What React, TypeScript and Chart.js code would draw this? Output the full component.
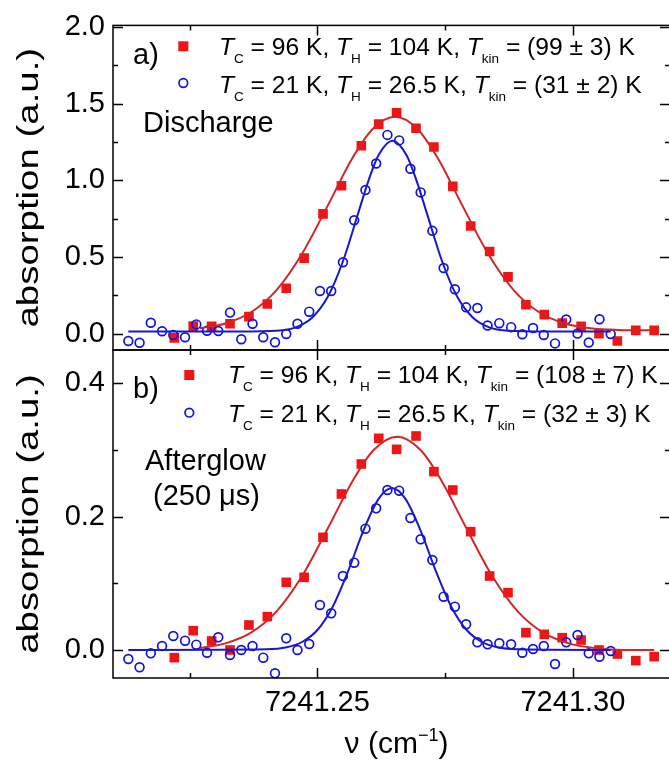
import React, { useEffect, useRef } from 'react';
import { Chart, registerables } from 'chart.js';

Chart.register(...registerables);

const FONT = '"Liberation Sans", Arial, Helvetica, sans-serif';

// ---------- axes ----------
const NU_MIN = 7241.21;
const NU_MAX = 7241.319;
const X_MAJOR = [7241.25, 7241.3];
const X_MINOR = [7241.225, 7241.275];

const TOP_Y_MIN = -0.107;
const TOP_Y_MAX = 2.01;
const TOP_Y_MAJOR = [0, 0.5, 1.0, 1.5, 2.0];
const TOP_Y_MINOR = [0.25, 0.75, 1.25, 1.75];

const BOT_Y_MIN = -0.042;
const BOT_Y_MAX = 0.45;
const BOT_Y_MAJOR = [0, 0.2, 0.4];
const BOT_Y_MINOR = [0.1, 0.3];

// ---------- measured points ----------
const BLUE_NU = [
  7241.213, 7241.2152, 7241.2174, 7241.2196, 7241.2218, 7241.2241, 7241.2263, 7241.2284, 7241.2306, 7241.2329,
  7241.2351, 7241.2373, 7241.2394, 7241.2417, 7241.2439, 7241.2461, 7241.2484, 7241.2505, 7241.2527, 7241.255,
  7241.2572, 7241.2594, 7241.2615, 7241.2637, 7241.266, 7241.2682, 7241.2702, 7241.2725, 7241.2747, 7241.2769,
  7241.2791, 7241.2813, 7241.2833, 7241.2856, 7241.2879, 7241.2901, 7241.2922, 7241.2943, 7241.2965, 7241.2987,
  7241.3009, 7241.3031, 7241.3052, 7241.3074,
];
const TOP_BLUE = [
  -0.048, -0.06, 0.071, 0.015, -0.009, -0.024, 0.06, 0.019, 0.017, 0.137,
  -0.037, 0.064, -0.024, -0.056, -0.003, 0.064, 0.143, 0.278, 0.278, 0.465,
  0.739, 0.936, 1.109, 1.296, 1.26, 1.075, 0.921, 0.67, 0.428, 0.289,
  0.171, 0.167, 0.053, 0.068, 0.042, -0.004, 0.036, -0.009, -0.064, 0.092,
  0.0, -0.058, 0.094, -0.003,
];
const BOT_BLUE = [
  -0.0135, -0.026, -0.005, 0.006, 0.021, 0.014, 0.008, -0.004, 0.019, -0.0075,
  0.0, 0.006, -0.0115, -0.035, 0.0175, 0.0, 0.009, 0.0675, 0.055, 0.111,
  0.131, 0.182, 0.2125, 0.24, 0.239, 0.198, 0.166, 0.135, 0.08, 0.065,
  0.0385, 0.0115, 0.0085, 0.01, 0.0085, -0.004, 0.0015, 0.006, -0.021, 0.0115,
  0.0225, -0.005, -0.01, -0.0015,
];

const RED_NU = [
  7241.222, 7241.2257, 7241.2293, 7241.2329, 7241.2366, 7241.2402, 7241.2439, 7241.2474, 7241.2511, 7241.2547,
  7241.2586, 7241.262, 7241.2655, 7241.2693, 7241.2728, 7241.2765, 7241.28, 7241.2837, 7241.2873, 7241.2908,
  7241.2944, 7241.2979, 7241.3016, 7241.3051, 7241.3087, 7241.3123, 7241.3159,
];
const TOP_RED = [
  -0.028, 0.049, 0.047, 0.064, 0.111, 0.193, 0.296, 0.492, 0.781, 0.964,
  1.225, 1.366, 1.44, 1.339, 1.217, 0.96, 0.702, 0.535, 0.37, 0.188,
  0.124, 0.068, 0.047, 0.0, -0.048, 0.021, 0.021,
];
const BOT_RED = [
  -0.0115, 0.029, 0.0135, 0.0, 0.0375, 0.05, 0.1015, 0.109, 0.169, 0.234,
  0.279, 0.3175, 0.301, 0.321, 0.2675, 0.24, 0.1775, 0.111, 0.086, 0.026,
  0.0235, 0.0185, 0.015, 0.0, -0.006, -0.016, -0.01,
];

// ---------- fit curves ----------
const TOP_BLUE_FIT_NU = [
  7241.213, 7241.235, 7241.242, 7241.246, 7241.249, 7241.252, 7241.255, 7241.258, 7241.26, 7241.262, 7241.2647,
  7241.2674, 7241.2694, 7241.2714, 7241.2744, 7241.2774, 7241.2804, 7241.2834, 7241.2874, 7241.2944, 7241.3074,
];
const TOP_BLUE_FIT = [
  0.013, 0.013, 0.018, 0.044, 0.105, 0.238, 0.472, 0.787, 0.998, 1.166, 1.258,
  1.166, 0.998, 0.787, 0.472, 0.238, 0.105, 0.044, 0.018, 0.013, 0.013,
];
const TOP_RED_FIT_NU = [
  7241.227, 7241.232, 7241.237, 7241.242, 7241.247, 7241.252, 7241.257, 7241.261, 7241.2652, 7241.2694,
  7241.2734, 7241.2784, 7241.2834, 7241.2884, 7241.2934, 7241.2984, 7241.3034, 7241.309, 7241.3159,
];
const TOP_RED_FIT = [
  0.035, 0.066, 0.139, 0.284, 0.521, 0.833, 1.153, 1.341, 1.415, 1.341,
  1.153, 0.833, 0.521, 0.284, 0.139, 0.066, 0.035, 0.024, 0.021,
];
const BOT_BLUE_FIT_NU = [
  7241.213, 7241.24, 7241.244, 7241.247, 7241.25, 7241.253, 7241.256, 7241.259, 7241.262, 7241.2646,
  7241.2672, 7241.2702, 7241.2732, 7241.2762, 7241.2792, 7241.2822, 7241.2852, 7241.2892, 7241.3074,
];
const BOT_BLUE_FIT = [
  0.0, 0.001, 0.004, 0.012, 0.03, 0.065, 0.118, 0.179, 0.227, 0.243,
  0.227, 0.179, 0.118, 0.065, 0.03, 0.012, 0.004, 0.001, 0.0,
];
const BOT_RED_FIT_NU = [
  7241.227, 7241.232, 7241.237, 7241.242, 7241.247, 7241.252, 7241.257, 7241.261, 7241.2656, 7241.2702,
  7241.2742, 7241.2792, 7241.2842, 7241.2892, 7241.2942, 7241.2992, 7241.3042, 7241.31, 7241.3159,
];
const BOT_RED_FIT = [
  0.003, 0.01, 0.026, 0.058, 0.111, 0.182, 0.255, 0.3, 0.32, 0.3,
  0.255, 0.182, 0.111, 0.058, 0.026, 0.01, 0.003, 0.0, 0.0,
];

// ---------- texts ----------
type Seg = { t: string; it?: boolean; sub?: boolean };
const mkRow = (tc: string, th: string, tk: string): Seg[] => [
  { t: 'T', it: true }, { t: 'C', sub: true }, { t: ` = ${tc} K, ` },
  { t: 'T', it: true }, { t: 'H', sub: true }, { t: ` = ${th} K, ` },
  { t: 'T', it: true }, { t: 'kin', sub: true }, { t: ` = ${tk} K` },
];
const TOP_LEGEND = [mkRow('96', '104', '(99 ± 3)'), mkRow('21', '26.5', '(31 ± 2)')];
const BOT_LEGEND = [mkRow('96', '104', '(108 ± 7)'), mkRow('21', '26.5', '(32 ± 3)')];
const TOP_LABELS = ['a)', 'Discharge'];
const BOT_LABELS = ['b)', 'Afterglow', '(250 μs)'];
const Y_TITLE = 'absorption (a.u.)';

const RED = '#f01414';
const RED_LINE = '#d02626';
const BLUE = '#1212e0';
const BLUE_LINE = '#1818cc';

const LEG_SIZE = 24.6;
const LEG_SUB = 13.5;
const TITLE_SIZE = 30;
const TITLE_STRETCH = 1.28;

const xy = (xs: number[], ys: number[]) => xs.map((x, i) => ({ x, y: ys[i] }));

function drawRich(ctx: CanvasRenderingContext2D, x: number, y: number, segs: Seg[], size: number, subSize: number, subDrop: number) {
  let cx = x;
  ctx.textAlign = 'left';
  ctx.textBaseline = 'alphabetic';
  for (const s of segs) {
    ctx.font = s.sub ? `${subSize}px ${FONT}` : `${s.it ? 'italic ' : ''}${size}px ${FONT}`;
    ctx.fillText(s.t, cx, s.sub ? y + subDrop : y);
    cx += ctx.measureText(s.t).width;
  }
  return cx;
}

function drawMarker(ctx: CanvasRenderingContext2D, kind: 'sq' | 'ci', x: number, y: number) {
  ctx.save();
  if (kind === 'sq') {
    ctx.fillStyle = RED;
    ctx.fillRect(x - 5, y - 5, 10, 10);
  } else {
    ctx.strokeStyle = BLUE;
    ctx.lineWidth = 1.7;
    ctx.beginPath();
    ctx.arc(x, y, 4.3, 0, Math.PI * 2);
    ctx.stroke();
  }
  ctx.restore();
}

function drawYTitle(ctx: CanvasRenderingContext2D, chart: any) {
  const { top, bottom } = chart.chartArea;
  ctx.save();
  ctx.translate(29.5, (top + bottom) / 2);
  ctx.rotate(-Math.PI / 2);
  ctx.scale(TITLE_STRETCH, 1);
  ctx.font = `${TITLE_SIZE}px ${FONT}`;
  ctx.fillStyle = '#000';
  ctx.textAlign = 'center';
  ctx.textBaseline = 'middle';
  ctx.fillText(Y_TITLE, 0, 0);
  ctx.restore();
}

type PanelCfg = {
  canvasTop: number;
  canvasHeight: number;
  padTop: number;
  padBottom: number;
  showX: boolean;
  yMin: number;
  yMax: number;
  yMajor: number[];
  yMinor: number[];
  blue: number[];
  red: number[];
  blueFitNu: number[];
  blueFit: number[];
  redFitNu: number[];
  redFit: number[];
  decorate: (ctx: CanvasRenderingContext2D, off: number) => void;
};

function framePlugin(cfg: PanelCfg) {
  return {
    id: 'frameTicks',
    afterDatasetsDraw(chart: any) {
      const ctx: CanvasRenderingContext2D = chart.ctx;
      const { left, right, top, bottom } = chart.chartArea;
      const xs = chart.scales.x;
      const ys = chart.scales.y;
      ctx.save();
      ctx.strokeStyle = '#000';
      ctx.lineWidth = 1.5;
      ctx.strokeRect(left, top, right - left, bottom - top);
      ctx.beginPath();
      const xt = (v: number, len: number) => {
        const p = Math.round(xs.getPixelForValue(v)) + 0.5;
        ctx.moveTo(p, top); ctx.lineTo(p, top + len);
        ctx.moveTo(p, bottom); ctx.lineTo(p, bottom - len);
      };
      const yt = (v: number, len: number) => {
        const p = Math.round(ys.getPixelForValue(v)) + 0.5;
        ctx.moveTo(left, p); ctx.lineTo(left + len, p);
        ctx.moveTo(right, p); ctx.lineTo(right - len, p);
      };
      X_MAJOR.forEach((v) => xt(v, 10));
      X_MINOR.forEach((v) => xt(v, 5));
      cfg.yMajor.forEach((v) => yt(v, 10));
      cfg.yMinor.forEach((v) => yt(v, 5));
      ctx.stroke();
      ctx.restore();
    },
    afterDraw(chart: any) {
      const ctx: CanvasRenderingContext2D = chart.ctx;
      ctx.save();
      ctx.fillStyle = '#000';
      drawYTitle(ctx, chart);
      cfg.decorate(ctx, cfg.canvasTop);
      ctx.restore();
    },
  };
}

function Panel({ cfg }: { cfg: PanelCfg }) {
  const ref = useRef<HTMLCanvasElement>(null);
  useEffect(() => {
    const canvas = ref.current!;
    const chart = new Chart(canvas, {
      type: 'line',
      data: {
        datasets: [
          {
            data: xy(RED_NU, cfg.red),
            showLine: false,
            pointStyle: 'rect',
            pointRadius: 6.8,
            pointBackgroundColor: RED,
            pointBorderColor: RED,
            pointBorderWidth: 0,
            order: 4,
          },
          {
            data: xy(BLUE_NU, cfg.blue),
            showLine: false,
            pointStyle: 'circle',
            pointRadius: 4.4,
            pointBackgroundColor: 'rgba(0,0,0,0)',
            pointBorderColor: BLUE,
            pointBorderWidth: 1.7,
            order: 3,
          },
          {
            data: xy(cfg.redFitNu, cfg.redFit),
            borderColor: RED_LINE,
            borderWidth: 2,
            pointRadius: 0,
            cubicInterpolationMode: 'monotone',
            fill: false,
            order: 2,
          },
          {
            data: xy(cfg.blueFitNu, cfg.blueFit),
            borderColor: BLUE_LINE,
            borderWidth: 2,
            pointRadius: 0,
            cubicInterpolationMode: 'monotone',
            fill: false,
            order: 1,
          },
        ] as any,
      },
      options: {
        animation: false,
        responsive: false,
        events: [],
        layout: { autoPadding: false, padding: { top: cfg.padTop, bottom: cfg.padBottom, left: 0, right: 2 } },
        plugins: { legend: { display: false }, tooltip: { enabled: false } },
        scales: {
          x: {
            type: 'linear',
            min: NU_MIN,
            max: NU_MAX,
            display: cfg.showX,
            position: 'bottom',
            afterBuildTicks: (s: any) => { s.ticks = X_MAJOR.map((v) => ({ value: v })); },
            afterFit: (s: any) => { s.height = cfg.showX ? 84 : 0; },
            grid: { display: false, drawTicks: false },
            border: { display: false },
            ticks: {
              autoSkip: false,
              maxRotation: 0,
              padding: 8,
              color: '#000',
              font: { family: FONT, size: 29 },
              callback: (v: any) => Number(v).toFixed(2),
            },
          },
          y: {
            type: 'linear',
            min: cfg.yMin,
            max: cfg.yMax,
            position: 'left',
            afterBuildTicks: (s: any) => { s.ticks = cfg.yMajor.map((v) => ({ value: v })); },
            afterFit: (s: any) => { s.width = 113; },
            grid: { display: false, drawTicks: false },
            border: { display: false },
            ticks: {
              padding: 8,
              color: '#000',
              font: { family: FONT, size: 29 },
              callback: (v: any) => Number(v).toFixed(1),
            },
            title: { display: false },
          },
        },
      } as any,
      plugins: [framePlugin(cfg)],
    });
    return () => chart.destroy();
  }, []);
  return (
    <canvas
      ref={ref}
      width={672}
      height={cfg.canvasHeight}
      style={{ position: 'absolute', left: 0, top: cfg.canvasTop, width: 672, height: cfg.canvasHeight }}
    />
  );
}

const topCfg: PanelCfg = {
  canvasTop: 0,
  canvasHeight: 380,
  padTop: 21,
  padBottom: 30,
  showX: false,
  yMin: TOP_Y_MIN,
  yMax: TOP_Y_MAX,
  yMajor: TOP_Y_MAJOR,
  yMinor: TOP_Y_MINOR,
  blue: TOP_BLUE,
  red: TOP_RED,
  blueFitNu: TOP_BLUE_FIT_NU,
  blueFit: TOP_BLUE_FIT,
  redFitNu: TOP_RED_FIT_NU,
  redFit: TOP_RED_FIT,
  decorate: (ctx, off) => {
    ctx.textAlign = 'left';
    ctx.textBaseline = 'alphabetic';
    ctx.font = `29px ${FONT}`;
    ctx.fillText(TOP_LABELS[0], 133, 64 - off);
    ctx.fillText(TOP_LABELS[1], 143, 132 - off);
    drawMarker(ctx, 'sq', 183.3, 46.3 - off);
    drawMarker(ctx, 'ci', 183.3, 83 - off);
    ctx.fillStyle = '#000';
    drawRich(ctx, 219, 55.3 - off, TOP_LEGEND[0], LEG_SIZE, LEG_SUB, 8);
    drawRich(ctx, 219, 93 - off, TOP_LEGEND[1], LEG_SIZE, LEG_SUB, 8);
  },
};

const botCfg: PanelCfg = {
  canvasTop: 320,
  canvasHeight: 442,
  padTop: 30,
  padBottom: 0,
  showX: true,
  yMin: BOT_Y_MIN,
  yMax: BOT_Y_MAX,
  yMajor: BOT_Y_MAJOR,
  yMinor: BOT_Y_MINOR,
  blue: BOT_BLUE,
  red: BOT_RED,
  blueFitNu: BOT_BLUE_FIT_NU,
  blueFit: BOT_BLUE_FIT,
  redFitNu: BOT_RED_FIT_NU,
  redFit: BOT_RED_FIT,
  decorate: (ctx, off) => {
    ctx.textAlign = 'left';
    ctx.textBaseline = 'alphabetic';
    ctx.font = `29px ${FONT}`;
    ctx.fillText(BOT_LABELS[0], 133, 398 - off);
    ctx.fillText(BOT_LABELS[1], 145, 470 - off);
    ctx.fillText(BOT_LABELS[2], 153, 505 - off);
    drawMarker(ctx, 'sq', 189.3, 375 - off);
    drawMarker(ctx, 'ci', 189.3, 412.7 - off);
    ctx.fillStyle = '#000';
    drawRich(ctx, 228, 383.3 - off, BOT_LEGEND[0], LEG_SIZE, LEG_SUB, 8);
    drawRich(ctx, 228, 421.7 - off, BOT_LEGEND[1], LEG_SIZE, LEG_SUB, 8);
    // x-axis title: nu (cm^-1)
    const parts = [
      { t: 'ν (cm', size: 30, dy: 0 },
      { t: '−1', size: 18, dy: -12 },
      { t: ')', size: 30, dy: 0 },
    ];
    let w = 0;
    parts.forEach((p) => { ctx.font = `${p.size}px ${FONT}`; w += ctx.measureText(p.t).width; });
    let x = 396.5 - w / 2;
    parts.forEach((p) => {
      ctx.font = `${p.size}px ${FONT}`;
      ctx.fillText(p.t, x, 753 - off + p.dy);
      x += ctx.measureText(p.t).width;
    });
  },
};

export default function App() {
  return (
    <div style={{ position: 'absolute', left: 0, top: 0, width: 669, height: 762, overflow: 'hidden', background: '#fff' }}>
      <Panel cfg={topCfg} />
      <Panel cfg={botCfg} />
    </div>
  );
}
